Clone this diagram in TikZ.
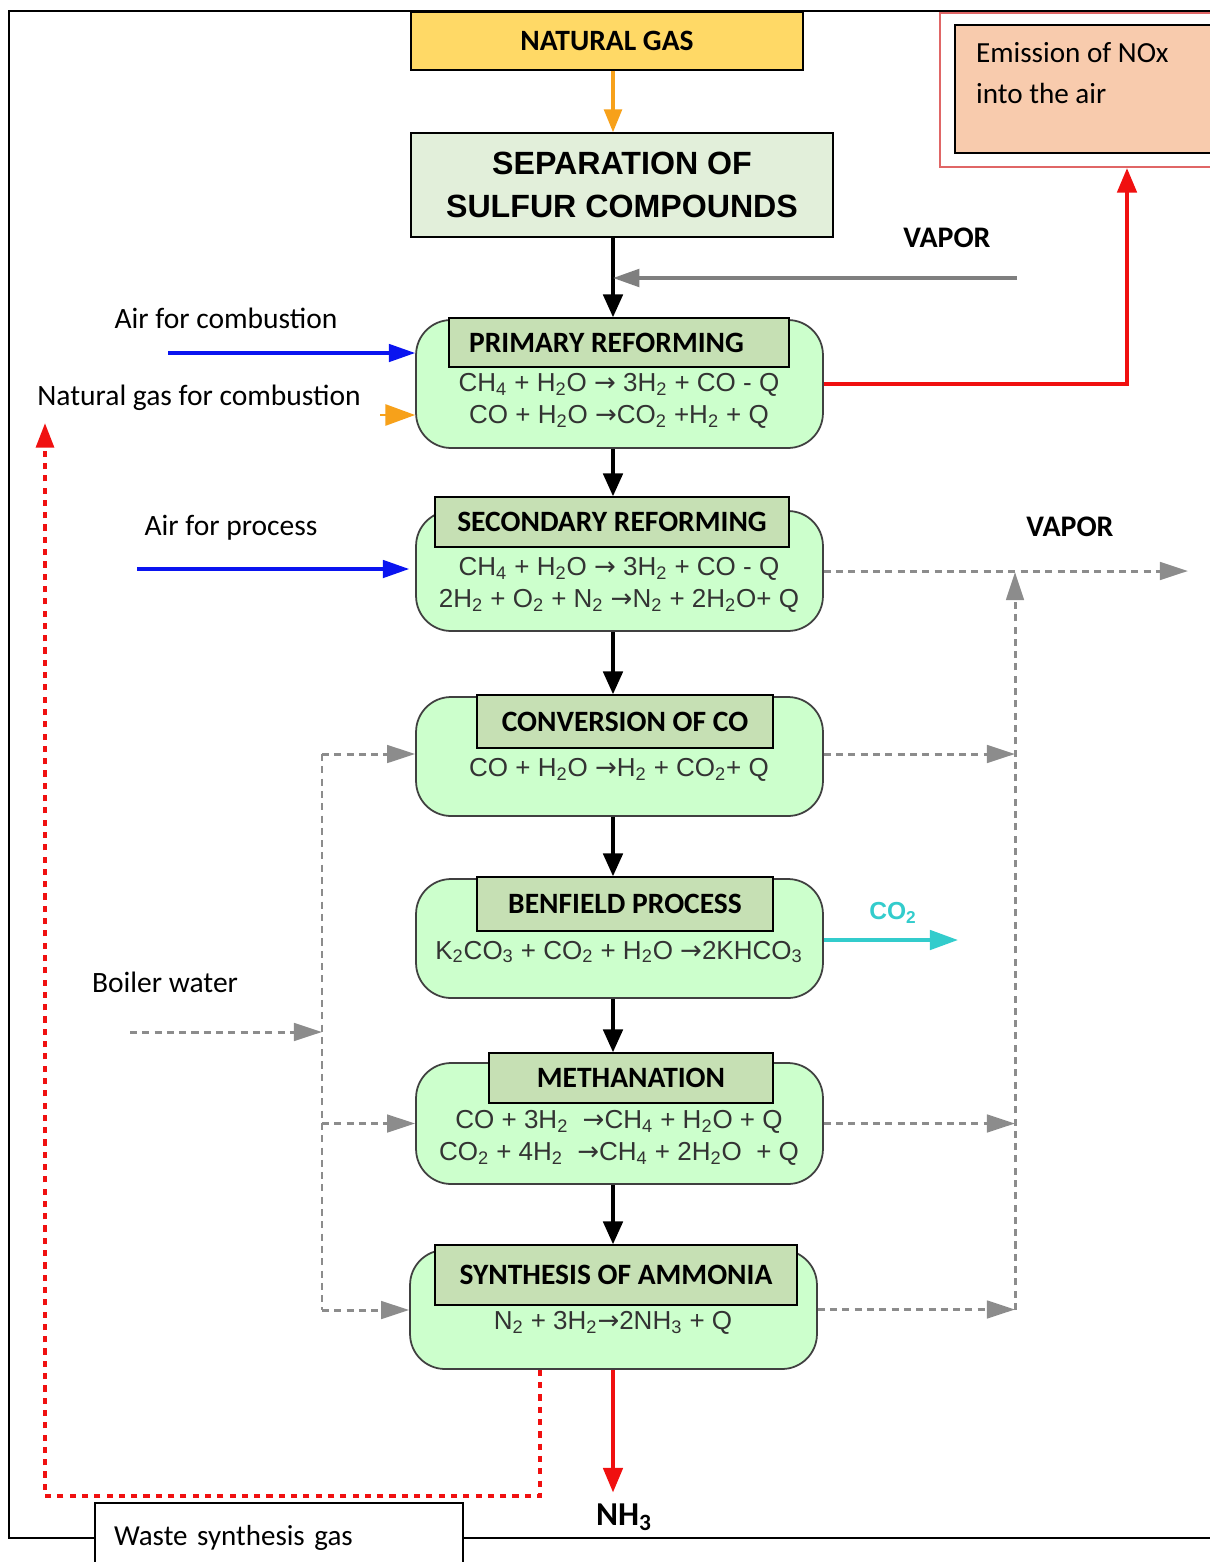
\documentclass[tikz,border=0pt]{standalone}
\usepackage{fontspec}
\setmainfont{Carlito}
\newfontfamily\arialf{Liberation Sans}
\newfontfamily\dvf{DejaVu Sans}
\usetikzlibrary{arrows.meta}
\definecolor{ngfill}{HTML}{FFD966}
\definecolor{sepfill}{HTML}{E2EFDA}
\definecolor{procfill}{HTML}{CCFFCC}
\definecolor{procborder}{HTML}{404040}
\definecolor{ttlfill}{HTML}{C6E0B4}
\definecolor{emfill}{HTML}{F8CBAD}
\definecolor{emborder}{HTML}{E06666}
\definecolor{eqgray}{HTML}{333333}
\definecolor{dgray}{HTML}{8C8C8C}
\definecolor{sgray}{HTML}{7F7F7F}
\definecolor{myblue}{HTML}{0A14F0}
\definecolor{myorange}{HTML}{F7A11A}
\definecolor{myred}{HTML}{F01010}
\definecolor{mycyan}{HTML}{33CCCC}
\newcommand\lo[1]{\textsubscript{#1}}
\newcommand\ar{{\dvf →}}
\tikzset{
  proc/.style={draw=procborder, fill=procfill, rounded corners=0.7cm, line width=1pt, minimum width=8.14cm},
  ttl/.style={draw=black, fill=ttlfill, line width=0.8pt, font=\bfseries\fontsize{16.8}{20}\selectfont},
  eqn/.style={font=\arialf\fontsize{14.8}{18.5}\selectfont, text=eqgray, align=center, inner sep=0pt},
  lbl/.style={font=\fontsize{16.8}{20}\selectfont, inner sep=1pt},
  blbl/.style={font=\bfseries\fontsize{17}{20}\selectfont, inner sep=1pt},
  flow/.style={-{Triangle[length=13pt,width=11pt]}, line width=2.2pt, black},
  orflow/.style={-{Triangle[length=13pt,width=10pt]}, line width=2pt, myorange},
  orhead/.style={-{Triangle[length=17pt,width=12pt]}, line width=1.5pt, myorange},
  redflow/.style={-{Triangle[length=14pt,width=11pt]}, line width=2.2pt, myred},
  blueflow/.style={-{Triangle[length=15pt,width=10pt]}, line width=1.8pt, myblue},
  greyflow/.style={-{Triangle[length=15pt,width=10pt]}, line width=2pt, sgray},
  dgrey/.style={line width=1.7pt, dgray, dash pattern=on 4pt off 3pt},
  dgreyarr/.style={dgrey, -{Triangle[length=16pt,width=10pt]}},
  reddot/.style={line width=2.4pt, myred, dash pattern=on 3.5pt off 3.5pt},
  cyanflow/.style={-{Triangle[length=16pt,width=11pt]}, line width=2.2pt, mycyan},
}
\begin{document}
\begin{tikzpicture}[x=0.02cm, y=-0.02cm]
\useasboundingbox (0,0) rectangle (1210,1562);
\fill[white] (0,0) rectangle (1210,1562);
% outer frame
\draw[line width=1.2pt] (1210,11) -- (9,11) -- (9,1538) -- (1210,1538);

% helper columns
\coordinate (cx) at (613,0);
\coordinate (rk) at (1127,0);
\coordinate (rv) at (1015,0);
\coordinate (lv) at (322,0);

% top nodes
\node[draw=black, fill=ngfill, line width=0.8pt, minimum width=7.84cm, minimum height=1.16cm,
      font=\bfseries\fontsize{16.8}{20}\selectfont] (ng) at (607,41) {NATURAL GAS};
\node[draw=black, fill=sepfill, line width=0.8pt, minimum width=8.44cm, minimum height=2.08cm,
      font=\arialf\bfseries\fontsize{18.3}{24}\selectfont, align=center] (sep) at (622,185)
      {SEPARATION OF\\SULFUR COMPOUNDS};

% emission box
\node[draw=emborder, fill=white, line width=1.2pt, minimum width=5.6cm, minimum height=3.08cm] (eo) at (1080,90) {};
\node[draw=black, fill=emfill, line width=0.8pt, minimum width=5.2cm, minimum height=2.56cm] (ei) at (1085,89) {};
\node[lbl, anchor=north west, align=left, font=\fontsize{16.6}{23.5}\selectfont] (emtxt) at (974,40)
      {Emission of NOx\\into the air};

% process boxes
\node[proc, minimum height=2.56cm] (p) at (619.5,384) {};
\node[ttl, minimum width=6.8cm, minimum height=0.98cm] (pt) at (619,342.5) {PRIMARY REFORMING\kern0.5cm};
\node[eqn] (pe) at (619,401) {CH\lo4 + H\lo2O \ar{} 3H\lo2 + CO - Q\\CO + H\lo2O \ar CO\lo2 +H\lo2 + Q};

\node[proc, minimum height=2.4cm] (s) at (619.5,571) {};
\node[ttl, minimum width=7.08cm, minimum height=1.0cm] (st) at (612,522) {SECONDARY REFORMING};
\node[eqn] (se) at (619,585) {CH\lo4 + H\lo2O \ar{} 3H\lo2 + CO - Q\\2H\lo2 + O\lo2 + N\lo2 \ar N\lo2 + 2H\lo2O+ Q};

\node[proc, minimum height=2.38cm] (c) at (619.5,756.5) {};
\node[ttl, minimum width=5.92cm, minimum height=1.06cm] (ct) at (625,721.5) {CONVERSION OF CO};
\node[eqn] (ce) at (619,770) {CO + H\lo2O \ar H\lo2 + CO\lo2+ Q};

\node[proc, minimum height=2.38cm] (b) at (619.5,938.5) {};
\node[ttl, minimum width=5.92cm, minimum height=1.08cm] (bt) at (625,904) {BENFIELD PROCESS};
\node[eqn] (be) at (619,952) {K\lo2CO\lo3 + CO\lo2 + H\lo2O \ar 2KHCO\lo3};

\node[proc, minimum height=2.42cm] (m) at (619.5,1123.5) {};
\node[ttl, minimum width=5.68cm, minimum height=1.0cm] (mt) at (631,1078) {METHANATION};
\node[eqn] (me) at (619,1138) {CO + 3H\lo2 \ \ar CH\lo4 + H\lo2O + Q\\CO\lo2 + 4H\lo2 \ \ar CH\lo4 + 2H\lo2O \ + Q};

\node[proc, minimum height=2.38cm] (y) at (613.5,1309.5) {};
\node[ttl, minimum width=7.24cm, minimum height=1.2cm] (yt) at (616,1275) {SYNTHESIS OF AMMONIA};
\node[eqn] (ye) at (613,1323) {N\lo2 + 3H\lo2\ar 2NH\lo3 + Q};

% labels
\node[blbl] (vap1) at (947,238) {VAPOR};
\node[blbl] (vap2) at (1070,527) {VAPOR};
\node[lbl] (lac) at (226,318) {Air for combustion};
\node[lbl] (lng) at (199,398) {Natural gas for combustion};
\node[lbl] (lap) at (231,528) {Air for process};
\node[lbl] (lbw) at (165,982) {Boiler water};
\node[font=\arialf\bfseries\fontsize{14}{16}\selectfont, text=mycyan] (lco2) at (893,913) {CO\lo2};
\node[font=\bfseries\fontsize{19}{22}\selectfont] (nh3) at (624,1517) {NH\lo3};

% free ends
\coordinate (v1) at (1017,278);
\coordinate (ac) at (168,353);
\coordinate (ngc) at (380,415);
\coordinate (apr) at (137,569);
\coordinate (vout) at (1188,569);
\coordinate (bw) at (130,1032);
\coordinate (co2e) at (958,940);
\coordinate (rtop) at (1015,572);
\coordinate (rbot) at (1015,1310);
\coordinate (ltop) at (322,754);
\coordinate (lbot) at (322,1310);
\coordinate (wd1) at (540,1496);
\coordinate (wd2) at (45,1496);
\coordinate (wd3) at (45,423);

% main flow
\draw[orflow] (ng.south -| cx) -- (sep.north -| cx);
\draw[flow] (sep.south -| cx) -- (pt.north -| cx);
\draw[greyflow] (v1) -- (v1 -| cx);
\draw[flow] (p.south -| cx) -- (st.north -| cx);
\draw[flow] (s.south -| cx) -- (ct.north -| cx);
\draw[flow] (c.south -| cx) -- (bt.north -| cx);
\draw[flow] (b.south -| cx) -- (mt.north -| cx);
\draw[flow] (m.south -| cx) -- (yt.north -| cx);
\draw[redflow] (y.south -| cx) -- ([yshift=0.1cm]nh3.north -| cx);

% side inputs
\draw[blueflow] (ac) -- (ac -| p.west);
\draw[orhead] (ngc) -- (ngc -| p.west);
\draw[blueflow] (apr) -- ([xshift=-0.12cm]apr -| s.west);
\draw[redflow] (p.east) -| (rk |- eo.south);
\draw[cyanflow] (co2e -| b.east) -- (co2e);

% vapor dashed
\draw[dgreyarr] (s.east) -- (vout |- s.east);
\draw[dgreyarr] (rbot) -- (rtop);
\draw[dgreyarr] (ltop -| c.east) -- (ltop -| rv);
\draw[dgreyarr] (m.east) -- (m.east -| rv);
\draw[dgreyarr] (y.east) -- (y.east -| rv);

% boiler water dashed
\draw[dgrey] (ltop) -- (lbot);
\draw[dgreyarr] (bw) -- (bw -| lv);
\draw[dgreyarr] (ltop) -- (ltop -| c.west);
\draw[dgreyarr] (m.west -| lv) -- (m.west);
\draw[dgreyarr] (lbot) -- (lbot -| y.west);

% waste synthesis gas loop
\draw[reddot, -{Triangle[length=14pt,width=10pt]}] (wd1 |- y.south) -- (wd1) -- (wd2) -- (wd3);

% waste box
\node[draw=black, fill=white, line width=0.8pt, minimum width=7.36cm, minimum height=1.4cm,
      text width=6.6cm, align=left, inner xsep=0.38cm, font=\fontsize{16.5}{20}\selectfont] (waste) at (279,1538)
      {Waste synthesis gas};
\end{tikzpicture}
\end{document}
